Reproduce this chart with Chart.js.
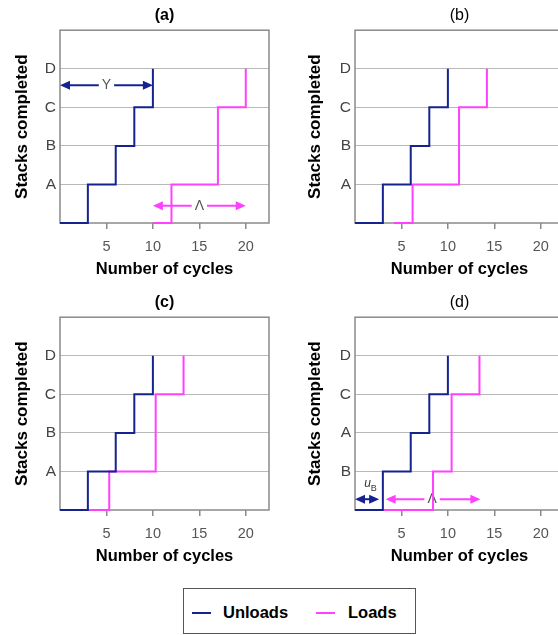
<!DOCTYPE html>
<html>
<head>
<meta charset="utf-8">
<script src="https://cdn.jsdelivr.net/npm/chart.js@4.4.1/dist/chart.umd.min.js"></script>
<style>
  html, body { margin: 0; padding: 0; background: #fff; }
  body { width: 558px; height: 635px; overflow: hidden; position: relative; font-family: "Liberation Sans", Arial, sans-serif; }
  .panel { position: absolute; overflow: hidden; height: 290px; }
  .panel canvas { display: block; }
  #legend { position: absolute; left: 183px; top: 588px; width: 233px; height: 46px; box-sizing: border-box; border: 1px solid #555; }
  #legend .swatch { position: absolute; top: 23px; width: 19px; height: 2px; }
  #legend .lbl { position: absolute; top: 13px; font-size: 16.5px; font-weight: bold; color: #000; line-height: 20px; }
</style>
</head>
<body>
<div class="panel" style="left:0;top:0;width:280px"><canvas id="chartA" width="280" height="290"></canvas></div>
<div class="panel" style="left:280px;top:0;width:278px"><canvas id="chartB" width="296" height="290"></canvas></div>
<div class="panel" style="left:0;top:287px;width:280px"><canvas id="chartC" width="280" height="290"></canvas></div>
<div class="panel" style="left:280px;top:287px;width:278px"><canvas id="chartD" width="296" height="290"></canvas></div>
<div id="legend"></div>
<script>
// step data: cycle at which each stack level is reached
const unloadCycles = [0, 3, 6, 8, 10];
const unloadStacks = [0, 1, 2, 3, 4];
const loadStacks = [0, 1, 3, 4];
const loadCyclesA = [10, 12, 17, 20];
const loadCyclesB = [4.2, 6.2, 11.2, 14.2];
const loadCyclesC = [3, 5.3, 10.3, 13.3];
const loadCyclesD = [3, 8.4, 10.4, 13.4];

const xTicks = [5, 10, 15, 20];
const yTicks = [1, 2, 3, 4];
const stackLabels = ['A', 'B', 'C', 'D'];
const stackLabelsD = ['B', 'A', 'C', 'D'];
const xMax = 22.5;
const yMax = 5;

// arrows: [from cycle, to cycle, stack level, series, label, label cycle]
const arrowsA = [[0, 10, 3.57, 'U', 'Y', 5], [10, 20, 0.45, 'L', 'Λ', 15]];
const arrowsD = [[0, 2.6, 0.28, 'U', '', 0], [3.3, 13.5, 0.28, 'L', 'Λ', 8.3]];
// u_B note in (d): [main, subscript, cycle, level]
const noteD = ['u', 'B', 1.0, 0.6];

const seriesNames = ['Unloads', 'Loads'];
const UNLOAD = '#14238f';
const LOAD = '#ff40ff';
const FONT = '"Liberation Sans", Arial, sans-serif';

function drawArrow(ctx, x0, x1, y, color) {
  const h = 10, w = 4.5;
  ctx.strokeStyle = color; ctx.fillStyle = color; ctx.lineWidth = 2;
  ctx.beginPath(); ctx.moveTo(x0 + h - 1, y); ctx.lineTo(x1 - h + 1, y); ctx.stroke();
  ctx.beginPath(); ctx.moveTo(x0, y); ctx.lineTo(x0 + h, y - w); ctx.lineTo(x0 + h, y + w); ctx.closePath(); ctx.fill();
  ctx.beginPath(); ctx.moveTo(x1, y); ctx.lineTo(x1 - h, y - w); ctx.lineTo(x1 - h, y + w); ctx.closePath(); ctx.fill();
}

const notes = {
  id: 'notes',
  beforeDatasetsDraw(chart, args, opts) {
    const { ctx, chartArea: a, scales: { x, y } } = chart;
    ctx.save();
    ctx.strokeStyle = '#8a8a8a'; ctx.lineWidth = 1.5;
    ctx.strokeRect(a.left, a.top, a.right - a.left, a.bottom - a.top);
    (opts.arrows || []).forEach(([from, to, level, series, text, at]) => {
      const py = y.getPixelForValue(level);
      drawArrow(ctx, x.getPixelForValue(from), x.getPixelForValue(to), py, series === 'U' ? UNLOAD : LOAD);
      if (!text) return;
      const px = x.getPixelForValue(at);
      ctx.font = `14px ${FONT}`;
      const tw = ctx.measureText(text).width;
      ctx.fillStyle = '#fff';
      ctx.fillRect(px - tw / 2 - 3, py - 4, tw + 6, 8);
      ctx.fillStyle = '#555'; ctx.textAlign = 'center'; ctx.textBaseline = 'middle';
      ctx.fillText(text, px, py);
    });
    if (opts.note) {
      const [main, sub, cx, cy] = opts.note;
      const px = x.getPixelForValue(cx), py = y.getPixelForValue(cy);
      ctx.fillStyle = '#333'; ctx.textAlign = 'left'; ctx.textBaseline = 'alphabetic';
      ctx.font = `italic 12px ${FONT}`;
      ctx.fillText(main, px, py);
      ctx.font = `9px ${FONT}`;
      ctx.fillText(sub, px + 6.5, py + 4);
    }
    ctx.restore();
  },
};

function points(xs, ys) { return xs.map((x, i) => ({ x, y: ys[i] })); }

function makePanel(id, title, bold, loads, labels, arrows, note, geom) {
  return new Chart(document.getElementById(id), {
    type: 'line',
    data: {
      datasets: [
        { label: seriesNames[0], data: points(unloadCycles, unloadStacks), borderColor: UNLOAD, borderWidth: 2, stepped: 'before', pointRadius: 0, fill: false, clip: false },
        { label: seriesNames[1], data: points(loads, loadStacks), borderColor: LOAD, borderWidth: 2, stepped: 'before', pointRadius: 0, fill: false, clip: false },
      ],
    },
    options: {
      responsive: false,
      animation: false,
      layout: { padding: { left: 0, right: geom.padRight, top: 0, bottom: 0 } },
      plugins: {
        legend: { display: false },
        tooltip: { enabled: false },
        title: { display: true, text: title, fullSize: false, color: '#000', font: { family: FONT, size: 16, weight: bold ? 'bold' : 'normal' }, padding: { top: 6, bottom: 5 } },
        notes: { arrows, note },
      },
      scales: {
        x: {
          type: 'linear', min: 0, max: xMax,
          afterBuildTicks: (s) => { s.ticks = xTicks.map((v) => ({ value: v })); },
          afterFit: (s) => { s.height = 67; },
          grid: { drawOnChartArea: false, drawTicks: true, tickLength: 6, color: '#8a8a8a', lineWidth: 1.5 },
          border: { display: false },
          ticks: { padding: 9, maxRotation: 0, color: '#555', font: { family: FONT, size: 14.5 } },
          title: { display: true, text: 'Number of cycles', color: '#000', font: { family: FONT, size: 16.5, weight: 'bold' }, padding: { top: 0, bottom: 11 } },
        },
        y: {
          type: 'linear', min: 0, max: yMax,
          afterBuildTicks: (s) => { s.ticks = yTicks.map((v) => ({ value: v })); },
          afterFit: (s) => { s.width = geom.axisWidth; },
          grid: { drawTicks: false, color: '#b8b8b8', lineWidth: 1 },
          border: { display: false },
          ticks: { padding: 4, color: '#444', font: { family: FONT, size: 15.5 }, callback: (v) => labels[yTicks.indexOf(v)] },
          title: { display: true, text: 'Stacks completed', color: '#000', font: { family: FONT, size: 17, weight: 'bold' }, padding: { top: geom.titlePad, bottom: 0 } },
        },
      },
    },
    plugins: [notes],
  });
}

const leftGeom = { padRight: 11, axisWidth: 60, titlePad: 12 };
const rightGeom = { padRight: 12, axisWidth: 75, titlePad: 25 };

makePanel('chartA', '(a)', true, loadCyclesA, stackLabels, arrowsA, null, leftGeom);
makePanel('chartB', '(b)', false, loadCyclesB, stackLabels, [], null, rightGeom);
makePanel('chartC', '(c)', true, loadCyclesC, stackLabels, [], null, leftGeom);
makePanel('chartD', '(d)', false, loadCyclesD, stackLabelsD, arrowsD, noteD, rightGeom);

const legend = document.getElementById('legend');
const legendColors = [UNLOAD, LOAD];
const legendPos = [[8, 39], [132, 164]];
legend.innerHTML = seriesNames.map((name, i) => `
  <span class="swatch" style="left:${legendPos[i][0]}px;background:${legendColors[i]}"></span>
  <span class="lbl" style="left:${legendPos[i][1]}px">${name}</span>`).join('');
</script>
</body>
</html>
